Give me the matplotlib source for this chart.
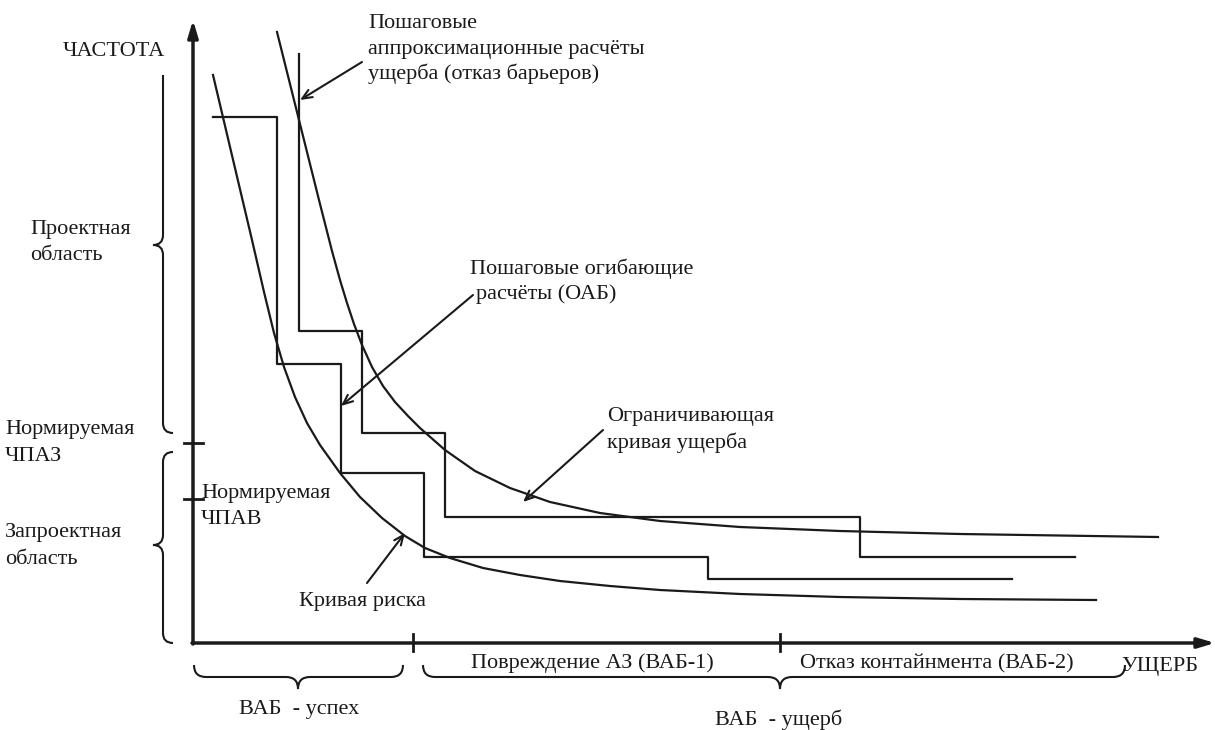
import matplotlib
matplotlib.use("Agg")
import matplotlib.pyplot as plt
from matplotlib.path import Path
from matplotlib.patches import PathPatch

plt.rcParams['font.family'] = ['Liberation Serif', 'DejaVu Serif']

# coordinates are read in picture pixels (x to the right, y downwards)
# risk curve (Кривая риска)
risk_x = [213, 226, 239, 252, 264, 274, 284, 295, 307, 320, 340, 360, 382, 405, 425,
          450, 483, 520, 560, 610, 660, 740, 840, 960, 1096]
risk_y = [75, 130, 185, 240, 292, 333, 367, 397, 423, 445, 473, 497, 518, 536, 548,
          558, 568, 575, 581, 586, 590, 594, 597, 599, 600]

# bounding damage curve (Ограничивающая кривая ущерба)
bound_x = [277, 299, 320, 332, 340, 347, 354, 362, 372, 383, 395, 408, 420, 445, 475,
           510, 550, 600, 660, 740, 840, 960, 1158]
bound_y = [32, 120, 204, 251, 280, 303, 324, 345, 367, 386, 402, 416, 428, 450, 471,
           488, 502, 513, 521, 527, 531, 534, 537]

# stepwise envelope calculations (ОАБ)
oab_x = [213, 277, 277, 341, 341, 424, 424, 708, 708, 1012]
oab_y = [117, 117, 364, 364, 473, 473, 557, 557, 579, 579]

# stepwise approximation calculations (отказ барьеров)
appr_x = [299, 299, 362, 362, 445, 445, 860, 860, 1075]
appr_y = [54, 331, 331, 433, 433, 517, 517, 557, 557]

# axes
origin = (193, 643)
x_end = 1215
y_end = 20
x_ticks = [413, 780]
y_ticks = [443, 499]

# braces: (position, start, end, tip)
v_braces = [(163, 75, 433, 245, False), (163, 452, 643, 545, True)]
h_braces = [(677, 194, 403, 298), (677, 423, 1125, 780)]

# text lines: (x, visual middle y, text, alignment)
labels = [
    (165, 50, "ЧАСТОТА", 'right'),
    (368, 22, "Пошаговые", 'left'),
    (368, 48, "аппроксимационные расчёты", 'left'),
    (368, 73, "ущерба (отказ барьеров)", 'left'),
    (30, 228, "Проектная", 'left'),
    (30, 254, "область", 'left'),
    (5, 428, "Нормируемая", 'left'),
    (5, 455, "ЧПАЗ", 'left'),
    (5, 531, "Запроектная", 'left'),
    (5, 558, "область", 'left'),
    (201, 492, "Нормируемая", 'left'),
    (201, 518, "ЧПАВ", 'left'),
    (470, 268, "Пошаговые огибающие", 'left'),
    (476, 293, "расчёты (ОАБ)", 'left'),
    (607, 415, "Ограничивающая", 'left'),
    (607, 442, "кривая ущерба", 'left'),
    (299, 600, "Кривая риска", 'left'),
    (471, 662, "Повреждение АЗ (ВАБ-1)", 'left'),
    (800, 662, "Отказ контайнмента (ВАБ-2)", 'left'),
    (1121, 665, "УЩЕРБ", 'left'),
    (299, 708, "ВАБ  - успех", 'center'),
    (779, 719, "ВАБ  - ущерб", 'center'),
]

# pointer arrows: (text end, curve end)
pointers = [((362, 62), (300, 100)),
            ((473, 295), (341, 406)),
            ((603, 430), (523, 502)),
            ((367, 583), (405, 533))]

fig = plt.figure(figsize=(12.15, 7.3), dpi=100)
ax = fig.add_axes([0, 0, 1, 1])
ax.set_xlim(0, 1215)
ax.set_ylim(730, 0)
ax.axis('off')

lc = '#1a1a1a'

# axes with arrows
ax.annotate('', xy=(origin[0], y_end), xytext=(origin[0], origin[1] + 1),
            arrowprops=dict(arrowstyle='-|>,head_length=1.0,head_width=0.3', lw=2.5, color=lc, shrinkA=0, shrinkB=0))
ax.annotate('', xy=(x_end, origin[1]), xytext=(origin[0] - 1, origin[1]),
            arrowprops=dict(arrowstyle='-|>,head_length=1.0,head_width=0.3', lw=2.5, color=lc, shrinkA=0, shrinkB=0))
for t in x_ticks:
    ax.plot([t, t], [origin[1] - 9, origin[1] + 8], color=lc, lw=2)
for t in y_ticks:
    ax.plot([origin[0] - 9, origin[0] + 10], [t, t], color=lc, lw=2)

# curves and steps
ax.plot(risk_x, risk_y, color=lc, lw=1.6, solid_joinstyle='round')
ax.plot(bound_x, bound_y, color=lc, lw=1.6, solid_joinstyle='round')
ax.plot(oab_x, oab_y, color=lc, lw=1.6)
ax.plot(appr_x, appr_y, color=lc, lw=1.6)


def v_brace(x, y0, y1, ym, top_curl, r=10):
    verts = []
    codes = []
    if top_curl:
        verts += [(x + r, y0), (x, y0), (x, y0 + r)]
        codes += [Path.MOVETO, Path.CURVE3, Path.CURVE3]
    else:
        verts += [(x, y0)]
        codes += [Path.MOVETO]
    verts += [(x, ym - r), (x, ym), (x - r, ym), (x, ym), (x, ym + r),
              (x, y1 - r), (x, y1), (x + r, y1)]
    codes += [Path.LINETO, Path.CURVE3, Path.CURVE3, Path.CURVE3, Path.CURVE3,
              Path.LINETO, Path.CURVE3, Path.CURVE3]
    ax.add_patch(PathPatch(Path(verts, codes), fill=False, lw=1.5, ec=lc))


def h_brace(y, x0, x1, xm, r=12):
    verts = [(x0, y - r), (x0, y), (x0 + r, y), (xm - r, y), (xm, y), (xm, y + r),
             (xm, y), (xm + r, y), (x1 - r, y), (x1, y), (x1, y - r)]
    codes = [Path.MOVETO, Path.CURVE3, Path.CURVE3, Path.LINETO, Path.CURVE3, Path.CURVE3,
             Path.CURVE3, Path.CURVE3, Path.LINETO, Path.CURVE3, Path.CURVE3]
    ax.add_patch(PathPatch(Path(verts, codes), fill=False, lw=1.5, ec=lc))


for b in v_braces:
    v_brace(*b)
for b in h_braces:
    h_brace(*b)

# baseline sits about 6 px under the visual middle of a line
for x, y, s, ha in labels:
    ax.text(x, y + 6, s, ha=ha, va='baseline', fontsize=16, color=lc)

for start, end in pointers:
    ax.annotate('', xy=end, xytext=start,
                arrowprops=dict(arrowstyle='->,head_length=0.7,head_width=0.3', lw=1.5, color=lc,
                                shrinkA=0, shrinkB=0))

fig.savefig('out.png', dpi=100)
